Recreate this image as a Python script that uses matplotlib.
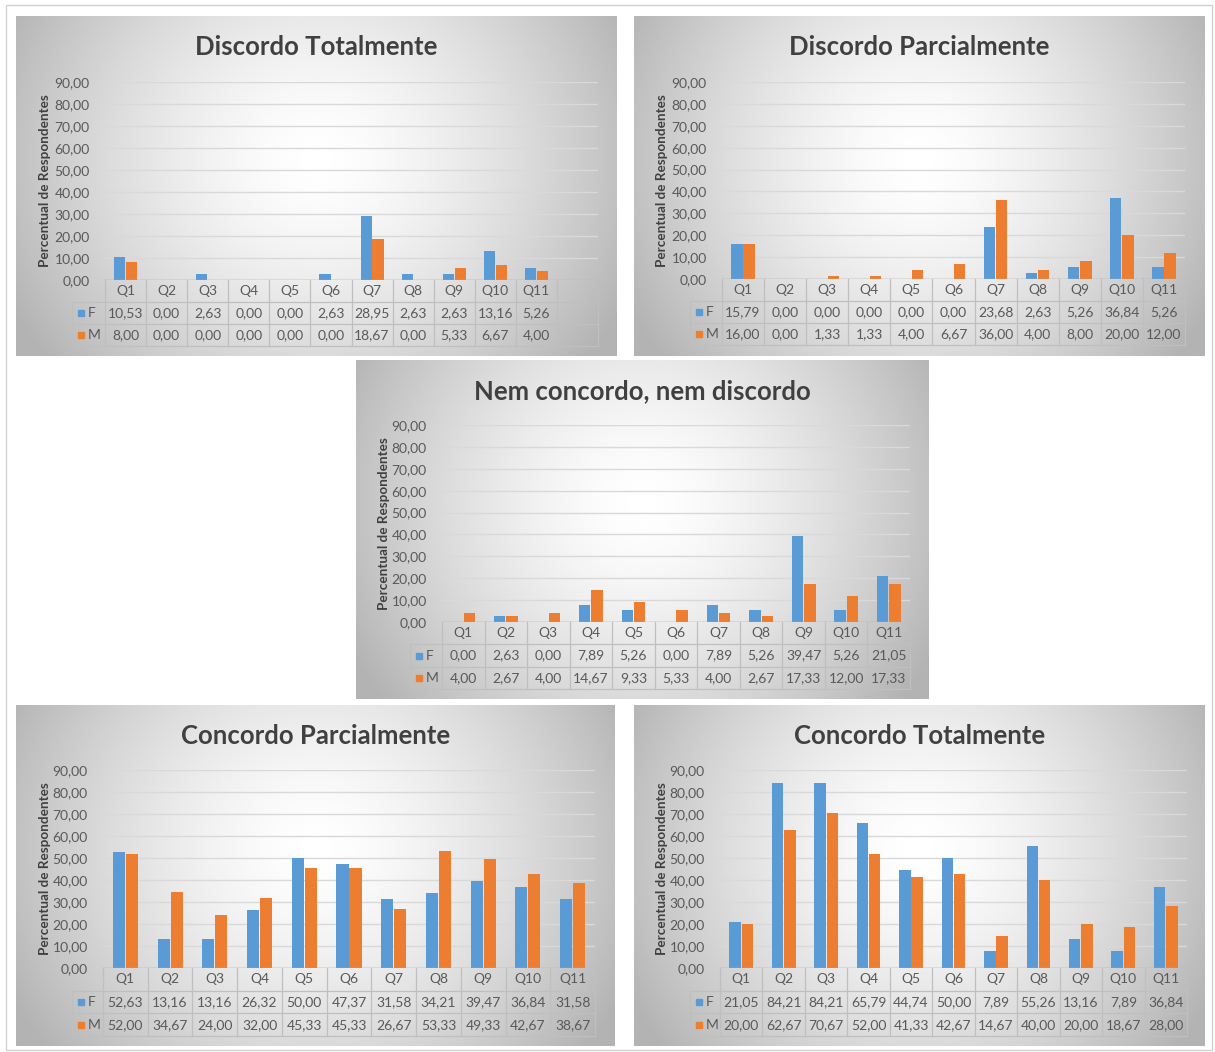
import matplotlib.pyplot as plt
import numpy as np
from matplotlib.patches import Rectangle
from matplotlib.transforms import blended_transform_factory

plt.rcParams["font.family"] = ["Lato", "DejaVu Sans"]

questions = ["Q1", "Q2", "Q3", "Q4", "Q5", "Q6", "Q7", "Q8", "Q9", "Q10", "Q11"]

titles = [
    "Discordo Totalmente",
    "Discordo Parcialmente",
    "Nem concordo, nem discordo",
    "Concordo Parcialmente",
    "Concordo Totalmente",
]

dt_f = [10.53, 0.00, 2.63, 0.00, 0.00, 2.63, 28.95, 2.63, 2.63, 13.16, 5.26]
dt_m = [8.00, 0.00, 0.00, 0.00, 0.00, 0.00, 18.67, 0.00, 5.33, 6.67, 4.00]

dp_f = [15.79, 0.00, 0.00, 0.00, 0.00, 0.00, 23.68, 2.63, 5.26, 36.84, 5.26]
dp_m = [16.00, 0.00, 1.33, 1.33, 4.00, 6.67, 36.00, 4.00, 8.00, 20.00, 12.00]

nn_f = [0.00, 2.63, 0.00, 7.89, 5.26, 0.00, 7.89, 5.26, 39.47, 5.26, 21.05]
nn_m = [4.00, 2.67, 4.00, 14.67, 9.33, 5.33, 4.00, 2.67, 17.33, 12.00, 17.33]

cp_f = [52.63, 13.16, 13.16, 26.32, 50.00, 47.37, 31.58, 34.21, 39.47, 36.84, 31.58]
cp_m = [52.00, 34.67, 24.00, 32.00, 45.33, 45.33, 26.67, 53.33, 49.33, 42.67, 38.67]

ct_f = [21.05, 84.21, 84.21, 65.79, 44.74, 50.00, 7.89, 55.26, 13.16, 7.89, 36.84]
ct_m = [20.00, 62.67, 70.67, 52.00, 41.33, 42.67, 14.67, 40.00, 20.00, 18.67, 28.00]

series = [(dt_f, dt_m), (dp_f, dp_m), (nn_f, nn_m), (cp_f, cp_m), (ct_f, ct_m)]

yticks = np.arange(0, 91, 10)

BLUE = "#5B9BD5"
ORANGE = "#ED7D31"
TXT = "#595959"
GRID = "#d9d9d9"
LINE = "#bfbfbf"

W, H = 1215, 1052
fig = plt.figure(figsize=(W / 100, H / 100), dpi=100)
fig.patch.set_facecolor("white")


def fbox(x0, y0, x1, y1):
    # pixel box (top-left origin) -> figure fraction [l, b, w, h]
    return [x0 / W, 1 - y1 / H, (x1 - x0) / W, (y1 - y0) / H]


# panel layout in pixels: background box, plot box, table bottom, legend column left, slots
panels = [
    dict(bg=(16, 16, 617, 356), plot=(105, 598, 82, 280), tb=346, lg=72, n=12, yl=45),
    dict(bg=(634, 16, 1205, 356), plot=(722, 1185, 82, 279), tb=345, lg=690, n=11, yl=662),
    dict(bg=(356, 360, 929, 699), plot=(442, 910, 425, 622), tb=689, lg=410, n=11, yl=384),
    dict(bg=(16, 705, 615, 1046), plot=(103, 595, 770, 968), tb=1036, lg=72, n=11, yl=45),
    dict(bg=(634, 705, 1205, 1046), plot=(720, 1187, 770, 968), tb=1036, lg=690, n=11, yl=662),
]

# overlay in pixel coordinates for frame, titles and legend keys
top = fig.add_axes([0, 0, 1, 1], zorder=10)
top.set_xlim(0, W)
top.set_ylim(H, 0)
top.axis("off")
top.add_patch(Rectangle((6, 5), 1206, 1045, fill=False, ec="#d0d0d0", lw=1))

# background gradient
gy, gx = np.mgrid[0:1:200j, 0:1:300j]
r = np.sqrt(((gx - 0.5) / 0.58) ** 2 + ((gy - 0.42) / 0.95) ** 2)
shade = np.clip(1.0 - 0.3 * r ** 1.5, 0.7, 1.0)

for p, title, (f_vals, m_vals) in zip(panels, titles, series):
    bx0, by0, bx1, by1 = p["bg"]
    bg = fig.add_axes(fbox(*p["bg"]), zorder=1)
    bg.imshow(shade, cmap="gray", vmin=0, vmax=1, aspect="auto",
              extent=(0, 1, 0, 1), interpolation="bicubic")
    bg.set_xlim(0, 1)
    bg.set_ylim(0, 1)
    bg.axis("off")

    px0, px1, pt, pb = p["plot"]
    ax = fig.add_axes(fbox(px0, pt, px1, pb), zorder=2)
    ax.patch.set_alpha(0)
    n = p["n"]
    x = np.arange(len(questions))
    w = 0.27
    ax.bar(x - w / 2 - 0.01, f_vals, w, color=BLUE, zorder=3)
    ax.bar(x + w / 2 + 0.01, m_vals, w, color=ORANGE, zorder=3)
    ax.set_xlim(-0.5, n - 0.5)
    ax.set_ylim(0, 90)
    ax.set_yticks(yticks)
    ax.set_yticklabels([f"{v:.2f}".replace(".", ",") for v in yticks],
                       fontsize=10, color=TXT)
    ax.tick_params(axis="y", length=0, pad=11)
    ax.set_xticks([])
    ax.grid(axis="y", color=GRID, lw=1, zorder=0)
    for s in ax.spines.values():
        s.set_visible(False)
    ax.axhline(0, color="#a6a6a6", lw=1, zorder=4)

    # title and y label
    cx = (bx0 + bx1) / 2
    top.text(cx, by0 + 31, title, ha="center", va="center",
             fontsize=18.5, fontweight="bold", color="#404040")
    top.text(p["yl"], (pt + pb) / 2, "Percentual de Respondentes", rotation=90,
             ha="center", va="center", fontsize=9.7, fontweight="bold",
             color="#404040")

    # data table
    rh = (p["tb"] - pb) / 3.0
    ph = pb - pt
    row = rh / ph
    tr = blended_transform_factory(ax.transData, ax.transAxes)
    lg_x = ax.transAxes.inverted().transform(fig.transFigure.transform(
        (p["lg"] / W, 0)))[0]
    for k in (1, 2, 3):
        x_start = lg_x if k > 1 else 0
        ax.plot([x_start, 1], [-row * k, -row * k], transform=ax.transAxes,
                color=LINE, lw=0.9, clip_on=False)
    ax.plot([lg_x, 0], [-row, -row], transform=ax.transAxes, color=LINE,
            lw=0.9, clip_on=False)
    for i in range(n + 1):
        ax.plot([i - 0.5, i - 0.5], [0, -3 * row], transform=tr,
                color=LINE, lw=0.9, clip_on=False)
    ax.plot([lg_x, lg_x], [-row, -3 * row], transform=ax.transAxes,
            color=LINE, lw=0.9, clip_on=False)

    for i, q in enumerate(questions):
        ax.text(i, -row * 0.5, q, transform=tr, ha="center", va="center",
                fontsize=10, color=TXT)
        ax.text(i, -row * 1.5, f"{f_vals[i]:.2f}".replace(".", ","), transform=tr,
                ha="center", va="center", fontsize=10, color=TXT)
        ax.text(i, -row * 2.5, f"{m_vals[i]:.2f}".replace(".", ","), transform=tr,
                ha="center", va="center", fontsize=10, color=TXT)

    # legend keys inside the table
    for k, (lab, col) in enumerate((("F", BLUE), ("M", ORANGE))):
        yk = pb + rh * (k + 1.5)
        kx = p["lg"] + 6
        top.add_patch(Rectangle((kx, yk - 3), 6, 6, color=col))
        top.text(kx + 10, yk, lab, ha="left", va="center", fontsize=10,
                 color=TXT)

fig.savefig("out.png", dpi=100, facecolor="white")
